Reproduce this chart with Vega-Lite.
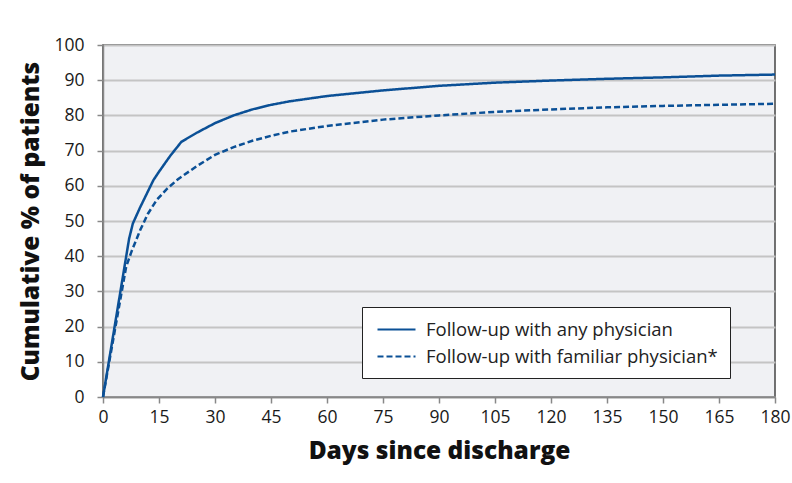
{
  "$schema": "https://vega.github.io/schema/vega-lite/v6.json",
  "width": 672,
  "height": 352,
  "autosize": "none",
  "padding": {"left": 103, "top": 45, "right": 17, "bottom": 86},
  "background": "white",
  "config": {
    "font": "Open Sans",
    "view": {"fill": "#f0f1f4", "stroke": "#444444", "strokeWidth": 1.5},
    "axis": {"labelFont": "Open Sans", "labelFontSize": 17.5, "labelColor": "#1a1a1a", "labelFlush": false, "titleFont": "Open Sans", "titleFontSize": 24.5, "titleFontWeight": 800, "titleColor": "#111111", "domainColor": "#888888", "domainWidth": 1.5, "tickColor": "#888888", "tickWidth": 1.5, "tickSize": 6}
  },
  "data": {"values": [
    {"day": 0, "pct": 0, "series": "Follow-up with any physician"},
    {"day": 7, "pct": 45, "series": "Follow-up with any physician"},
    {"day": 8, "pct": 49.3, "series": "Follow-up with any physician"},
    {"day": 10, "pct": 54, "series": "Follow-up with any physician"},
    {"day": 13.5, "pct": 61.6, "series": "Follow-up with any physician"},
    {"day": 15, "pct": 64, "series": "Follow-up with any physician"},
    {"day": 18, "pct": 68.5, "series": "Follow-up with any physician"},
    {"day": 21, "pct": 72.5, "series": "Follow-up with any physician"},
    {"day": 25, "pct": 75, "series": "Follow-up with any physician"},
    {"day": 30, "pct": 77.8, "series": "Follow-up with any physician"},
    {"day": 35, "pct": 80, "series": "Follow-up with any physician"},
    {"day": 40, "pct": 81.7, "series": "Follow-up with any physician"},
    {"day": 45, "pct": 83, "series": "Follow-up with any physician"},
    {"day": 50, "pct": 84, "series": "Follow-up with any physician"},
    {"day": 60, "pct": 85.5, "series": "Follow-up with any physician"},
    {"day": 75, "pct": 87.1, "series": "Follow-up with any physician"},
    {"day": 90, "pct": 88.4, "series": "Follow-up with any physician"},
    {"day": 105, "pct": 89.3, "series": "Follow-up with any physician"},
    {"day": 120, "pct": 89.9, "series": "Follow-up with any physician"},
    {"day": 135, "pct": 90.4, "series": "Follow-up with any physician"},
    {"day": 150, "pct": 90.8, "series": "Follow-up with any physician"},
    {"day": 165, "pct": 91.3, "series": "Follow-up with any physician"},
    {"day": 180, "pct": 91.6, "series": "Follow-up with any physician"},
    {"day": 0, "pct": 0, "series": "Follow-up with familiar physician*"},
    {"day": 6.2, "pct": 37, "series": "Follow-up with familiar physician*"},
    {"day": 7.7, "pct": 41.5, "series": "Follow-up with familiar physician*"},
    {"day": 10, "pct": 47.5, "series": "Follow-up with familiar physician*"},
    {"day": 12, "pct": 52, "series": "Follow-up with familiar physician*"},
    {"day": 14.4, "pct": 56, "series": "Follow-up with familiar physician*"},
    {"day": 17, "pct": 59, "series": "Follow-up with familiar physician*"},
    {"day": 20, "pct": 61.8, "series": "Follow-up with familiar physician*"},
    {"day": 25, "pct": 65.5, "series": "Follow-up with familiar physician*"},
    {"day": 30, "pct": 68.8, "series": "Follow-up with familiar physician*"},
    {"day": 35, "pct": 71, "series": "Follow-up with familiar physician*"},
    {"day": 40, "pct": 72.8, "series": "Follow-up with familiar physician*"},
    {"day": 45, "pct": 74.2, "series": "Follow-up with familiar physician*"},
    {"day": 50, "pct": 75.4, "series": "Follow-up with familiar physician*"},
    {"day": 60, "pct": 77, "series": "Follow-up with familiar physician*"},
    {"day": 75, "pct": 78.8, "series": "Follow-up with familiar physician*"},
    {"day": 90, "pct": 80, "series": "Follow-up with familiar physician*"},
    {"day": 105, "pct": 81, "series": "Follow-up with familiar physician*"},
    {"day": 120, "pct": 81.7, "series": "Follow-up with familiar physician*"},
    {"day": 135, "pct": 82.3, "series": "Follow-up with familiar physician*"},
    {"day": 150, "pct": 82.7, "series": "Follow-up with familiar physician*"},
    {"day": 165, "pct": 83, "series": "Follow-up with familiar physician*"},
    {"day": 180, "pct": 83.3, "series": "Follow-up with familiar physician*"}
  ]},
  "mark": {"type": "line", "color": "#0b5096", "strokeWidth": 2.5},
  "encoding": {
    "x": {"field": "day", "type": "quantitative", "scale": {"domain": [0, 180], "nice": false},
      "axis": {"values": [0,15,30,45,60,75,90,105,120,135,150,165,180], "grid": false, "title": "Days since discharge", "labelPadding": 5, "titlePadding": 14}},
    "y": {"field": "pct", "type": "quantitative", "scale": {"domain": [0, 100], "nice": false},
      "axis": {"values": [0,10,20,30,40,50,60,70,80,90,100], "grid": true, "gridColor": "#c4c4c4", "gridWidth": 2, "title": "Cumulative % of patients", "labelPadding": 13, "titlePadding": 10}},
    "strokeDash": {"field": "series", "type": "nominal",
      "scale": {"domain": ["Follow-up with any physician", "Follow-up with familiar physician*"], "range": [[1,0],[6,3]]},
      "legend": {"title": null, "orient": "none", "legendX": 259, "legendY": 262, "fillColor": "white", "strokeColor": "#222222", "padding": 12,
        "symbolType": "M-2,0H2", "symbolSize": 361, "symbolStrokeColor": "#0b5096", "symbolStrokeWidth": 2, "symbolDash": [6,3],
        "labelFont": "Open Sans", "labelFontSize": 18.5, "labelColor": "#222222", "labelLimit": 500, "labelOffset": 19, "rowPadding": 7, "symbolOffset": 12}}
  }
}
